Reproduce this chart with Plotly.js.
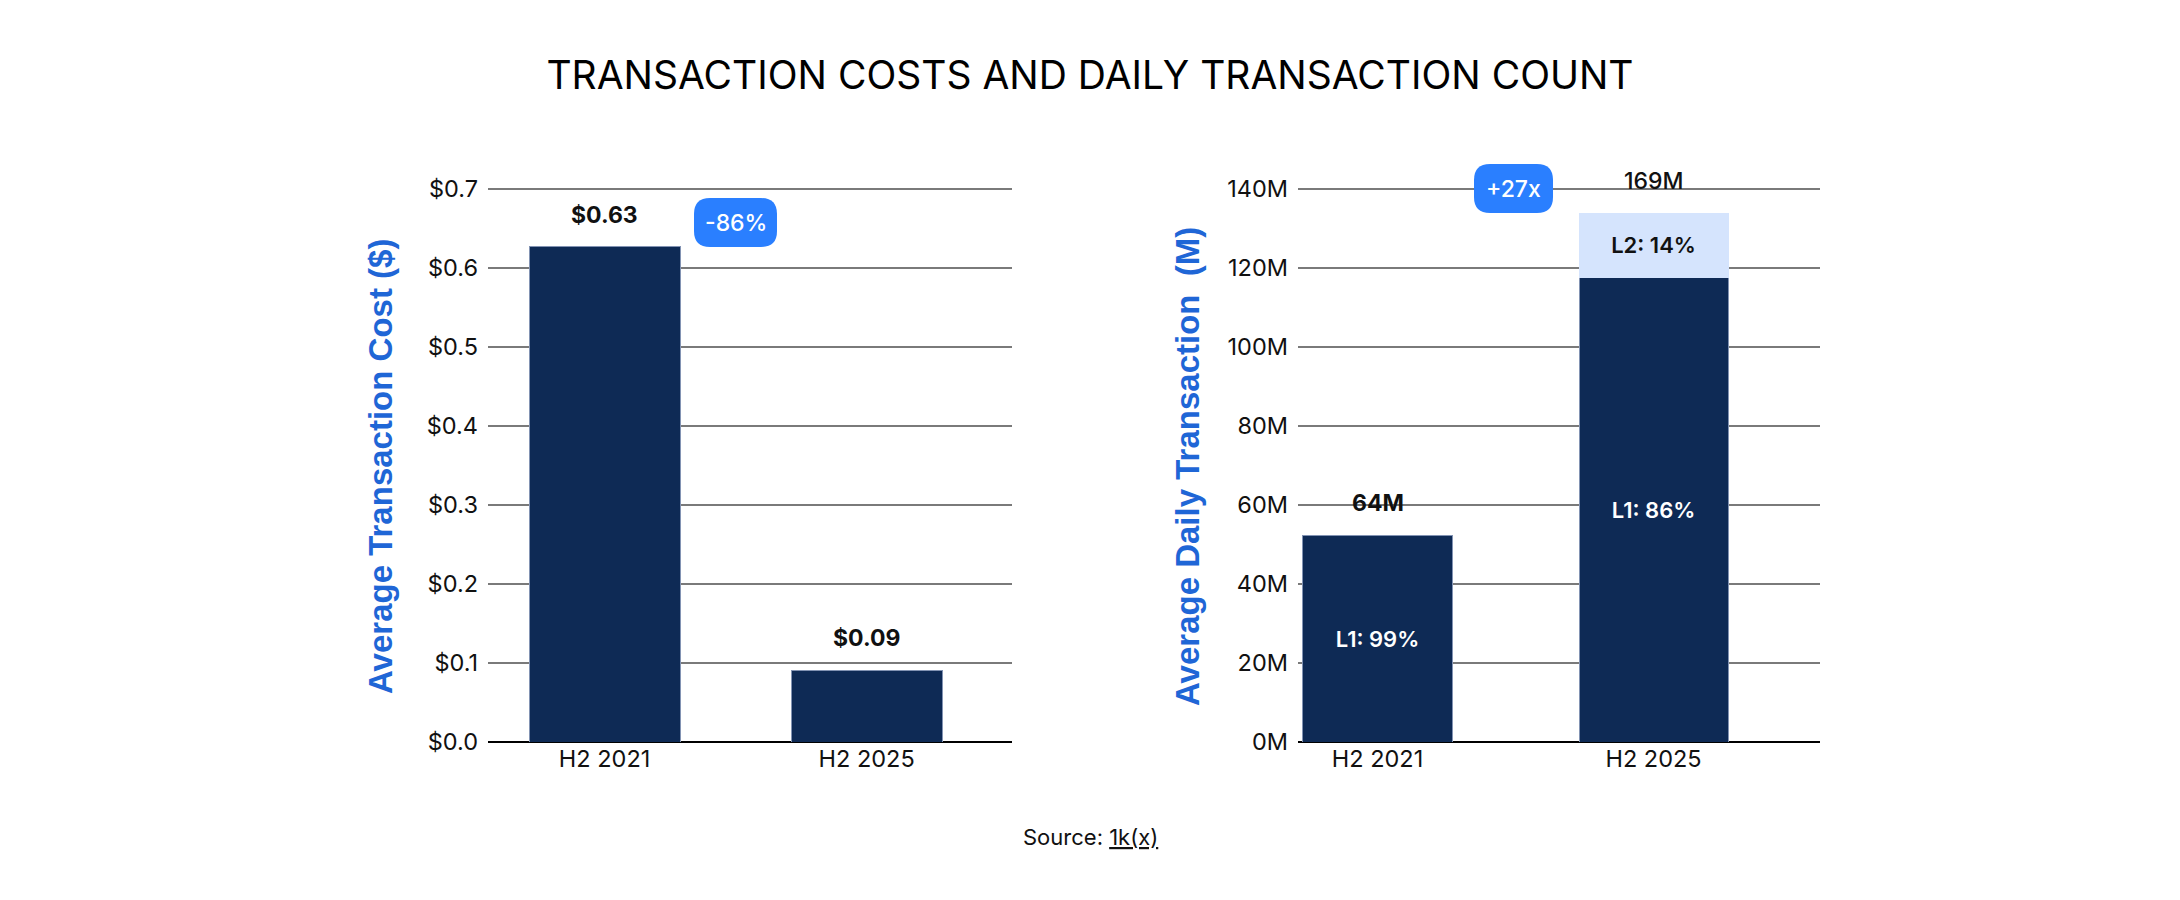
<!DOCTYPE html>
<html>
<head>
<meta charset="utf-8">
<script src="https://cdn.plot.ly/plotly-3.0.1.min.js"></script>
<style>
  body { margin: 0; background: #fff; }
  #chart_holder { width: 2180px; height: 900px; }
</style>
</head>
<body>
<div id="chart_holder"></div>
<script>
// data
let periods = ["H2 2021", "H2 2025"];
let avg_cost = [0.627, 0.091];
let cost_labels = ["$0.63", "$0.09"];
let l1_tx = [52.3, 117.5];
let l2_tx = [null, 16.4];
let l1_labels = ["L1: 99%", "L1: 86%"];
let l2_labels = ["", "L2: 14%"];
let total_labels = ["64M", "169M"];
let change_labels = ["-86%", "+27x"];

let W = 2180, H = 900;
let navy = "#0e2a55";
let badge_blue = "#2a7fff";
let title_blue = "#1f66d6";

// pixel box -> rounded rect path in paper units
function roundedRect(x0, y0, x1, y1, r) {
    let px = function(x) { return (x / W).toFixed(5); };
    let py = function(y) { return (1 - y / H).toFixed(5); };
    return "M" + px(x0 + r) + "," + py(y0) +
        " L" + px(x1 - r) + "," + py(y0) +
        " Q" + px(x1) + "," + py(y0) + " " + px(x1) + "," + py(y0 + r) +
        " L" + px(x1) + "," + py(y1 - r) +
        " Q" + px(x1) + "," + py(y1) + " " + px(x1 - r) + "," + py(y1) +
        " L" + px(x0 + r) + "," + py(y1) +
        " Q" + px(x0) + "," + py(y1) + " " + px(x0) + "," + py(y1 - r) +
        " L" + px(x0) + "," + py(y0 + r) +
        " Q" + px(x0) + "," + py(y0) + " " + px(x0 + r) + "," + py(y0) + " Z";
}

let data = [
    {
        x: periods, y: avg_cost, type: "bar", xaxis: "x", yaxis: "y",
        width: 0.576,
        marker: { color: navy, line: { color: "#8293b3", width: 1 } },
        hoverinfo: "skip"
    },
    {
        x: periods, y: l1_tx, type: "bar", xaxis: "x2", yaxis: "y2",
        width: 0.54,
        text: l1_labels, textposition: "inside", insidetextanchor: "middle",
        textangle: 0, constraintext: "none",
        textfont: { family: "Inter", size: 22, color: "#ffffff", weight: 600 },
        marker: { color: navy, line: { color: "#8293b3", width: 1 } },
        hoverinfo: "skip"
    },
    {
        x: periods, y: l2_tx, type: "bar", xaxis: "x2", yaxis: "y2",
        width: 0.54,
        text: l2_labels, textposition: "inside", insidetextanchor: "middle",
        textangle: 0, constraintext: "none",
        textfont: { family: "Inter", size: 22, color: "#111111", weight: 600 },
        marker: { color: "#d5e4fd", line: { color: "#d5e4fd", width: 1 } },
        hoverinfo: "skip"
    }
];

let annotations = [];
// value labels above bars
for (let i = 0; i < periods.length; i++) {
    annotations.push({
        xref: "x", yref: "y", x: periods[i], y: avg_cost[i],
        text: cost_labels[i], showarrow: false, yanchor: "middle", yshift: 32,
        font: { family: "Inter", size: 23, color: "#111111", weight: 700 }
    });
    let total = l1_tx[i] + (l2_tx[i] || 0);
    annotations.push({
        xref: "x2", yref: "y2", x: periods[i], y: total,
        text: total_labels[i], showarrow: false, yanchor: "middle", yshift: 32,
        font: { family: "Inter", size: 23, color: "#111111", weight: i == 0 ? 700 : 500 }
    });
}
// badges
let badges = [
    { box: [694, 198, 777, 247] },
    { box: [1474, 164, 1553, 213] }
];
let shapes = [];
for (let i = 0; i < badges.length; i++) {
    let b = badges[i].box;
    shapes.push({
        type: "path", xref: "paper", yref: "paper", layer: "above",
        path: roundedRect(b[0], b[1], b[2], b[3], 16),
        fillcolor: badge_blue, line: { width: 0 }
    });
    annotations.push({
        xref: "paper", yref: "paper",
        x: (b[0] + b[2]) / 2 / W, y: 1 - (b[1] + b[3]) / 2 / H,
        xanchor: "center", yanchor: "middle", showarrow: false,
        text: change_labels[i],
        font: { family: "Inter", size: 23, color: "#ffffff", weight: 500 }
    });
}
// y titles
annotations.push({
    xref: "paper", yref: "paper", x: 381 / W, y: 1 - 467 / H,
    xanchor: "center", yanchor: "middle", showarrow: false, textangle: -90,
    text: "Average Transaction Cost ($)",
    font: { family: "Liberation Sans", size: 33, color: title_blue, weight: 700 }
});
annotations.push({
    xref: "paper", yref: "paper", x: 1188 / W, y: 1 - 467 / H,
    xanchor: "center", yanchor: "middle", showarrow: false, textangle: -90,
    text: "Average Daily Transaction&nbsp; (M)",
    font: { family: "Liberation Sans", size: 33, color: title_blue, weight: 700 }
});
// source
annotations.push({
    xref: "paper", yref: "paper", x: 1090 / W, y: 1 - 837 / H,
    xanchor: "center", yanchor: "middle", showarrow: false,
    text: "Source: <span style=\"text-decoration:underline\">1k(x)</span>",
    font: { family: "Inter", size: 22, color: "#111111" }
});

let tick_font = { family: "Inter", size: 23.5, color: "#111111" };
// top of domain a bit above the top gridline so plotly keeps that line
let y_dom = [158 / H, 713.4 / H];

let layout = {
    width: W, height: H,
    margin: { l: 0, r: 0, t: 0, b: 0 },
    paper_bgcolor: "#ffffff", plot_bgcolor: "#ffffff",
    showlegend: false,
    barmode: "stack",
    font: { family: "Inter", color: "#111111" },
    title: {
        text: "TRANSACTION COSTS AND DAILY TRANSACTION COUNT",
        x: 0.5, xanchor: "center", y: 1 - 75 / H, yanchor: "middle",
        font: { family: "Inter", size: 39, color: "#000000" }
    },
    xaxis: {
        domain: [488 / W, 1012 / W], anchor: "y", type: "category",
        range: [-0.445, 1.555], showgrid: false, showline: false,
        ticks: "", tickfont: tick_font, fixedrange: true
    },
    yaxis: {
        domain: y_dom, anchor: "x", range: [0, 0.703], dtick: 0.1,
        tickprefix: "$", tickformat: ".1f",
        showgrid: true, gridcolor: "#7a7a7a", gridwidth: 1.5,
        zeroline: true, zerolinecolor: "#000000", zerolinewidth: 2.5,
        showline: false, ticks: "", ticklabelstandoff: 9,
        tickfont: tick_font, fixedrange: true
    },
    xaxis2: {
        domain: [1298 / W, 1820 / W], anchor: "y2", type: "category",
        range: [-0.288, 1.603], showgrid: false, showline: false,
        ticks: "", tickfont: tick_font, fixedrange: true
    },
    yaxis2: {
        domain: y_dom, anchor: "x2", range: [0, 140.6], dtick: 20,
        ticksuffix: "M",
        showgrid: true, gridcolor: "#7a7a7a", gridwidth: 1.5,
        zeroline: true, zerolinecolor: "#000000", zerolinewidth: 2.5,
        showline: false, ticks: "", ticklabelstandoff: 9,
        tickfont: tick_font, fixedrange: true
    },
    annotations: annotations,
    shapes: shapes
};

Plotly.newPlot("chart_holder", data, layout, { displayModeBar: false, staticPlot: true });
</script>
</body>
</html>
